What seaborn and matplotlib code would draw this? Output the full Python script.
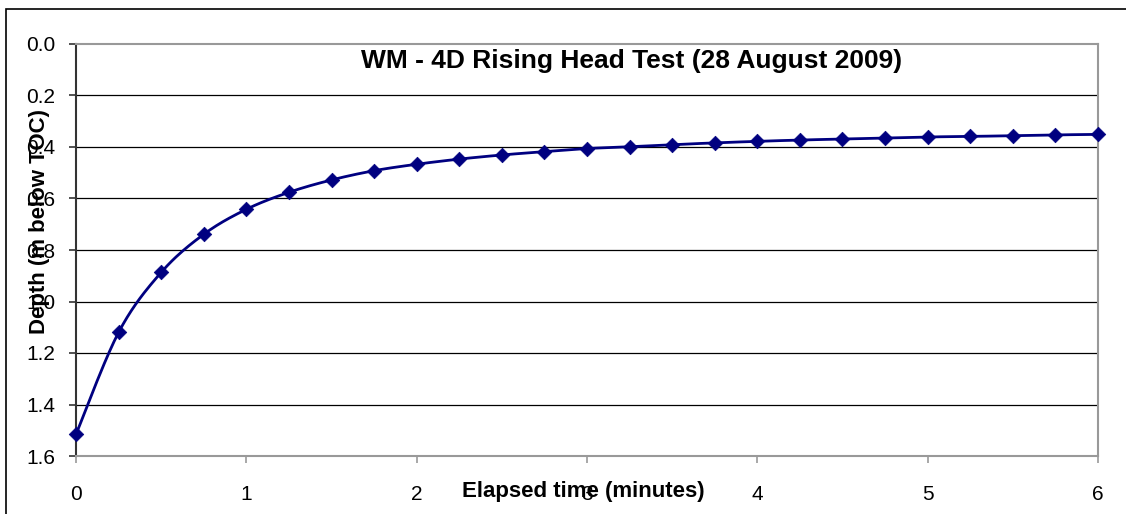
import numpy as np
import pandas as pd
import matplotlib
matplotlib.use("Agg")
import matplotlib.pyplot as plt
import seaborn as sns
from matplotlib.patches import Rectangle

# ---- data ----
elapsed_min = [0.0, 0.25, 0.5, 0.75, 1.0, 1.25, 1.5, 1.75, 2.0, 2.25, 2.5, 2.75,
               3.0, 3.25, 3.5, 3.75, 4.0, 4.25, 4.5, 4.75, 5.0, 5.25, 5.5, 5.75, 6.0]
depth_m = [1.516, 1.120, 0.887, 0.739, 0.642, 0.576, 0.528, 0.492, 0.467, 0.447,
           0.431, 0.418, 0.406, 0.399, 0.391, 0.384, 0.378, 0.373, 0.369, 0.365,
           0.361, 0.359, 0.356, 0.353, 0.351]
title = "WM - 4D Rising Head Test (28 August 2009)"
x_label = "Elapsed time (minutes)"
y_label = "Depth (m below TOC)"
x_ticks = [0, 1, 2, 3, 4, 5, 6]
y_ticks = [0.0, 0.2, 0.4, 0.6, 0.8, 1.0, 1.2, 1.4, 1.6]

NAVY = "#000080"

def smooth(xs, ys, n=20):
    """Catmull-Rom smoothing through the data points (like Excel's smoothed line)."""
    P = np.column_stack([xs, ys]).astype(float)
    P = np.vstack([P[0], P, P[-1]])
    out = []
    t = np.linspace(0, 1, n, endpoint=False)
    for i in range(1, len(P) - 2):
        p0, p1, p2, p3 = P[i - 1], P[i], P[i + 1], P[i + 2]
        tt = t[:, None]
        seg = 0.5 * ((2 * p1) + (-p0 + p2) * tt + (2 * p0 - 5 * p1 + 4 * p2 - p3) * tt**2
                     + (-p0 + 3 * p1 - 3 * p2 + p3) * tt**3)
        out.append(seg)
    out.append(P[-2][None, :])
    out = np.vstack(out)
    return out[:, 0], out[:, 1]

sns.set_theme(style="white")
plt.rcParams["font.family"] = ["Liberation Sans", "DejaVu Sans"]
plt.rcParams["text.color"] = "black"
plt.rcParams["xtick.color"] = "black"
plt.rcParams["ytick.color"] = "black"

df = pd.DataFrame({"t": elapsed_min, "d": depth_m})
sx, sy = smooth(elapsed_min, depth_m)
df_s = pd.DataFrame({"t": sx, "d": sy})

W, H = 1126, 514
fig = plt.figure(figsize=(W / 100, H / 100), dpi=100)
ax = fig.add_axes([76 / W, 1 - 456 / H, (1098 - 76) / W, (456 - 44) / H])

# outer chart border
fig.patches.append(Rectangle((6 / W, -0.05), 1.2, 1 - 9 / H + 0.05, transform=fig.transFigure,
                             fill=False, edgecolor="black", linewidth=1.2))

for yv in y_ticks[1:-1]:
    ax.axhline(yv, color="black", linewidth=0.9, zorder=1)

sns.lineplot(data=df_s, x="t", y="d", ax=ax, color=NAVY, linewidth=2, sort=False,
             estimator=None, zorder=3)
sns.scatterplot(data=df, x="t", y="d", ax=ax, color=NAVY, marker="D", s=55,
                edgecolor=NAVY, linewidth=0.5, zorder=4, clip_on=False)

ax.set_xlim(0, 6)
ax.set_ylim(1.6, 0.0)
ax.set_xticks(x_ticks)
ax.set_yticks(y_ticks)
ax.set_xticklabels([str(v) for v in x_ticks], fontsize=15, color="black")
ax.set_yticklabels([f"{v:.1f}" for v in y_ticks], fontsize=15, color="black")

ax.tick_params(axis="y", direction="out", length=5, width=1.2, color="#333333", pad=10,
               left=True, labelcolor="black")
ax.tick_params(axis="x", direction="out", length=5, width=1.2, color="#999999", pad=16,
               bottom=True, labelcolor="black")

for side in ["top", "right", "bottom"]:
    ax.spines[side].set_visible(True)
    ax.spines[side].set_color("#999999")
    ax.spines[side].set_linewidth(1.5)
ax.spines["left"].set_color("#333333")
ax.spines["left"].set_linewidth(1.5)

ax.set_xlabel("")
ax.set_ylabel("")
fig.text(583 / W, 1 - 492 / H, x_label, fontsize=16, fontweight="bold",
         ha="center", va="center", color="black")
fig.text(40 / W, 1 - 221 / H, y_label, fontsize=16, fontweight="bold",
         ha="center", va="center", rotation=90, color="black")
fig.text(632 / W, 1 - 61 / H, title, fontsize=19, fontweight="bold",
         ha="center", va="center", color="black")

fig.savefig("out.png", dpi=100)
